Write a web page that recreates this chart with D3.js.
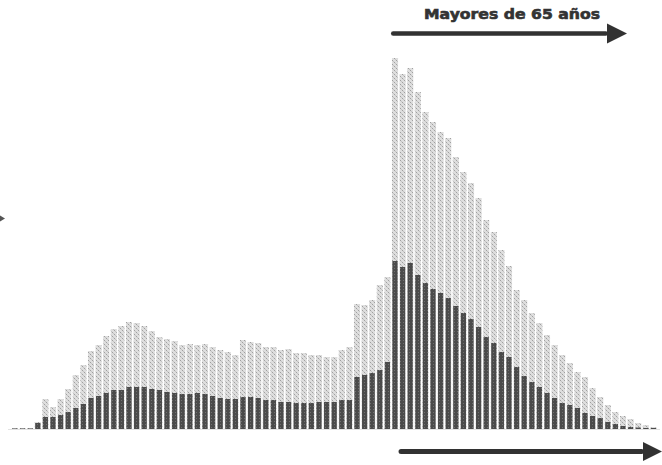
<!DOCTYPE html>
<html><head><meta charset="utf-8">
<script src="https://cdn.jsdelivr.net/npm/d3@7"></script>
<style>html,body{margin:0;padding:0;background:#fff;}svg{display:block;}</style>
</head><body>
<svg id="c" width="662" height="465"></svg>
<script>
// Ages 15..99
const ages = d3.range(15, 100);
// Total (light, stippled) bars
const totalValues = [1,1,1,7,30,22,30,40,54,64,78,84,93,100,103,107,106,103,98,92,
  90,88,84,85,84,85,82,79,77,74,89,87,86,82,82,79,80,76,76,74,
  74,72,72,79,82,125,124,129,144,152,371,355,361,337,317,307,297,291,272,257,
  246,231,209,197,179,163,139,129,116,106,94,84,74,66,57,52,41,32,24,17,
  13,10,6,4,2];
// Subset (dark) bars
const subsetValues = [0.5,0.5,0.5,6,12,12,14,17,21,25,31,33,36,39,39,42,42,42,40,39,
  37,36,35,35,36,35,33,31,30,30,32,32,31,29,29,27,27,26,26,26,
  27,27,27,29,29,52,54,56,59,67,168,162,166,154,146,140,136,131,123,116,
  110,102,92,86,77,72,62,53,47,42,36,31,26,24,21,16,13,11,7,5,
  3,2,1.5,1,1];
const topLabel = "Mayores de 65 años";

const svg = d3.select("#c");
const defs = svg.append("defs");
const pat = defs.append("pattern").attr("id","stip").attr("patternUnits","userSpaceOnUse")
  .attr("width",4).attr("height",4);
pat.append("rect").attr("width",4).attr("height",4).attr("fill","#dedede");
pat.append("rect").attr("x",0).attr("y",0).attr("width",1).attr("height",1).attr("fill","#a0a0a0");
pat.append("rect").attr("x",2).attr("y",2).attr("width",1).attr("height",1).attr("fill","#a0a0a0");
pat.append("rect").attr("x",1).attr("y",1).attr("width",1).attr("height",1).attr("fill","#c4c4c4");
pat.append("rect").attr("x",3).attr("y",3).attr("width",1).attr("height",1).attr("fill","#c4c4c4");
const pat2 = defs.append("pattern").attr("id","stip2").attr("patternUnits","userSpaceOnUse")
  .attr("width",3).attr("height",3);
pat2.append("rect").attr("width",3).attr("height",3).attr("fill","#4c4c4c");
pat2.append("rect").attr("x",1).attr("y",1).attr("width",1).attr("height",1).attr("fill","#707070");
defs.append("filter").attr("id","soft").append("feGaussianBlur").attr("stdDeviation",0.45);

const x = d3.scaleBand().domain(ages).range([11.2, 657.2]).paddingInner(0.2).paddingOuter(0.1);
const y = d3.scaleLinear().domain([0, 375]).range([429, 54]);

const g = svg.append("g").attr("filter","url(#soft)");
g.append("line").attr("x1",8).attr("x2",660).attr("y1",429.5).attr("y2",429.5)
  .attr("stroke","#e2e2e2").attr("stroke-width",1);

g.selectAll("rect.t").data(ages).join("rect").attr("class","t")
  .attr("x", d => x(d)).attr("width", x.bandwidth())
  .attr("y", (d,i) => y(totalValues[i])).attr("height", (d,i) => y(0) - y(totalValues[i]))
  .attr("fill","url(#stip)");
const dw = x.bandwidth()*0.85;
g.selectAll("rect.s").data(ages).join("rect").attr("class","s")
  .attr("x", d => x(d) + (x.bandwidth()-dw)/2).attr("width", dw)
  .attr("y", (d,i) => y(subsetValues[i])).attr("height", (d,i) => y(0) - y(subsetValues[i]))
  .attr("fill","url(#stip2)");

// Arrows
function arrow(x1, x2, yy, thick, headLen, headH) {
  const a = svg.append("g").attr("filter","url(#soft)");
  a.append("rect").attr("x", x1).attr("y", yy - thick/2).attr("width", x2 - headLen - x1 + 1)
    .attr("height", thick).attr("rx", thick/2).attr("fill","#333");
  a.append("path").attr("d", `M${x2 - headLen},${yy - headH/2} L${x2},${yy} L${x2 - headLen},${yy + headH/2} Z`)
    .attr("fill","#333");
}
const x65 = x(65) - 1;
arrow(x65, 627, 33.5, 4.5, 20, 20);
arrow(x(66) - 1, 662, 451.5, 5, 19, 19);
// partial arrow tip at left edge
svg.append("path").attr("d","M-4,213 L5,218.5 L-4,224 Z").attr("fill","#555").attr("filter","url(#soft)");

svg.append("text").attr("x", 512).attr("y", 18.5).attr("text-anchor","middle")
  .attr("font-family","DejaVu Sans, sans-serif").attr("font-weight","bold").attr("font-size",13.5)
  .attr("textLength",176).attr("lengthAdjust","spacingAndGlyphs")
  .attr("fill","#333").attr("stroke","#333").attr("stroke-width",0.6).text(topLabel);
</script>
</body></html>
